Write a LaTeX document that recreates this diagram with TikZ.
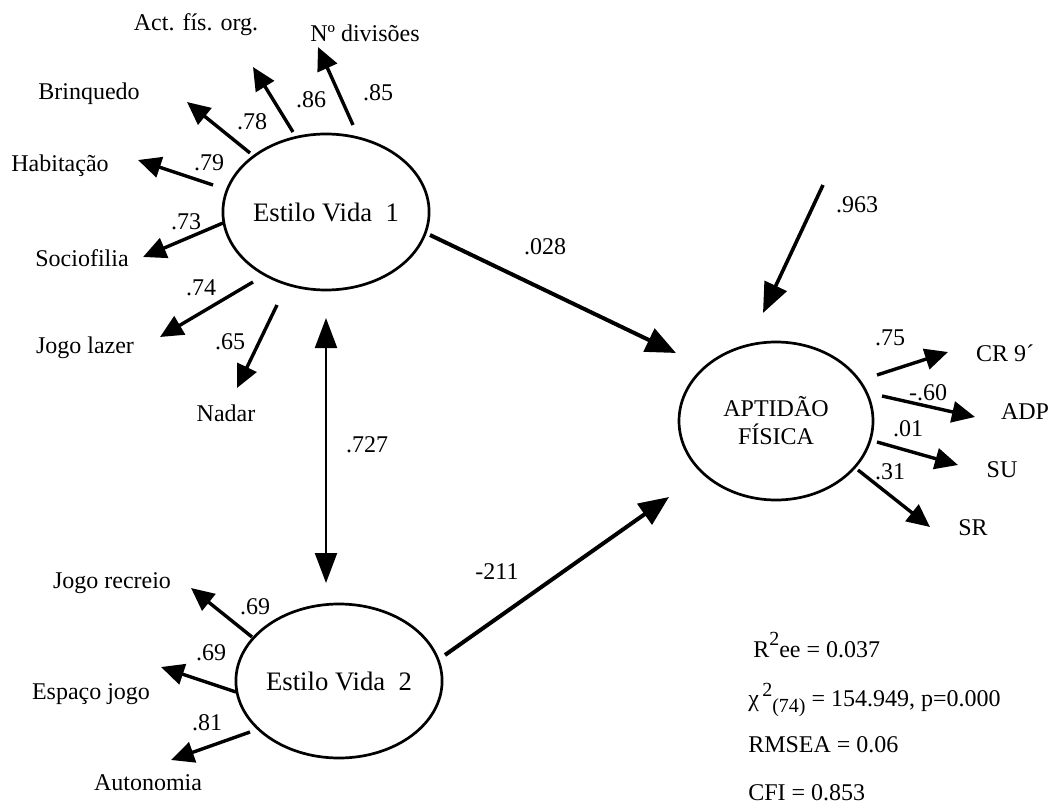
\documentclass[tikz,border=0pt]{standalone}
\usepackage{fontspec}
\setmainfont{Liberation Serif}
\usetikzlibrary{arrows.meta,shapes.geometric}
\def\px{0.75pt}
\tikzset{
  latent/.style={draw, line width=2.7*\px, ellipse, inner sep=0pt},
  lbl/.style={font=\fontsize{18}{20}\selectfont, inner sep=0pt},
  big/.style={font=\fontsize{20}{22}\selectfont},
  load/.style={line width=3.4*\px, -{Triangle[length=23*\px, width=21*\px]}},
  path/.style={line width=4*\px, -{Triangle[length=30*\px, width=25*\px]}},
  corr/.style={line width=2.2*\px, {Triangle[length=30*\px, width=22*\px]}-{Triangle[length=30*\px, width=22*\px]}},
}
\begin{document}
\begin{tikzpicture}[x=0.75pt, y=-0.75pt]
\path[use as bounding box] (0,0) rectangle (1052,805);

% latent variables
\node[latent, minimum width=196*\px, minimum height=156*\px, lbl, big] (ev1) at (326,212) {Estilo Vida\ \ 1};
\node[latent, minimum width=192*\px, minimum height=154*\px, lbl, big] (ev2) at (339,681) {Estilo Vida\ \ 2};
\node[latent, minimum width=194*\px, minimum height=158*\px, lbl, align=center] (apt) at (776,421) {APTIDÃO\\[1pt]FÍSICA};

% indicators of Estilo Vida 1
\node[lbl] (actfis) at (196,25) {Act. fís. org.};
\node[lbl] (ndiv) at (365,33) {Nº divisões};
\node[lbl] (brinq) at (89,94) {Brinquedo};
\node[lbl] (habit) at (60,166) {Habitação};
\node[lbl] (socio) at (82,258) {Sociofilia};
\node[lbl] (jlazer) at (85,348) {Jogo lazer};
\node[lbl] (nadar) at (226,413) {Nadar};

% indicators of Estilo Vida 2
\node[lbl] (jrecreio) at (112,583) {Jogo recreio};
\node[lbl] (espaco) at (91,694) {Espaço jogo};
\node[lbl] (auton) at (148,783) {Autonomia};

% indicators of Aptidão Física
\node[lbl] (cr) at (1005,353) {CR 9´};
\node[lbl] (adp) at (1025,412) {ADP};
\node[lbl] (su) at (1002,470) {SU};
\node[lbl] (sr) at (973,528) {SR};

% arrow end points
\coordinate (s-ndiv) at (353,125);  \coordinate (t-ndiv) at (318,47);
\coordinate (s-act) at (293,132);   \coordinate (t-act) at (253,67);
\coordinate (s-brq) at (250,153);   \coordinate (t-brq) at (187,102);
\coordinate (s-hab) at (213,185);   \coordinate (t-hab) at (138,160);
\coordinate (s-soc) at (223,223);   \coordinate (t-soc) at (143,257);
\coordinate (s-jl) at (253,282);    \coordinate (t-jl) at (160,337);
\coordinate (s-nad) at (277,305);   \coordinate (t-nad) at (237,388);

\coordinate (s-jr) at (252,637);    \coordinate (t-jr) at (191,588);
\coordinate (s-esp) at (236,692);   \coordinate (t-esp) at (161,667);
\coordinate (s-aut) at (250,732);   \coordinate (t-aut) at (171,760);

\coordinate (s-cr) at (877,375);    \coordinate (t-cr) at (948,352);
\coordinate (s-adp) at (882,396);   \coordinate (t-adp) at (975,417);
\coordinate (s-su) at (877,442);    \coordinate (t-su) at (958,465);
\coordinate (s-sr) at (858,470);    \coordinate (t-sr) at (930,527);

\coordinate (c-top) at (326,318);   \coordinate (c-bot) at (326,583);
\coordinate (p1-s) at (430,235);    \coordinate (p1-t) at (676,353);
\coordinate (p2-s) at (445,655);    \coordinate (p2-t) at (669,497);
\coordinate (res) at (823,185);     \coordinate (res-t) at (763,313);

% loadings
\foreach \a in {ndiv,act,brq,hab,soc,jl,nad,jr,esp,aut,cr,adp,su,sr}
  \draw[load] (s-\a) -- (t-\a);

% structural paths, residual and correlation
\draw[path] (p1-s) -- (p1-t);
\draw[path] (p2-s) -- (p2-t);
\draw[line width=3.6*\px, -{Triangle[length=30*\px, width=24*\px]}] (res) -- (res-t);
\draw[corr] (c-top) -- (c-bot);

% coefficients
\node[lbl] (v85) at (378,93) {.85};
\node[lbl] (v86) at (311,100) {.86};
\node[lbl] (v78) at (252,122) {.78};
\node[lbl] (v79) at (209,163) {.79};
\node[lbl] (v73) at (186,222) {.73};
\node[lbl] (v74) at (201,288) {.74};
\node[lbl] (v65) at (230,342) {.65};
\node[lbl] (v727) at (367,445) {.727};
\node[lbl] (v028) at (545,247) {.028};
\node[lbl] (v211) at (497,572) {-211};
\node[lbl] (v963) at (857,205) {.963};
\node[lbl] (v75) at (890,338) {.75};
\node[lbl] (v60) at (928,393) {-.60};
\node[lbl] (v01) at (908,429) {.01};
\node[lbl] (v31) at (890,472) {.31};
\node[lbl] (v69a) at (255,607) {.69};
\node[lbl] (v69b) at (211,653) {.69};
\node[lbl] (v81) at (207,723) {.81};

% fit statistics
\node[lbl, anchor=west] (r2) at (753,645) {R\raisebox{1.1ex}{\fontsize{15}{15}\selectfont 2}ee = 0.037};
\node[lbl, anchor=west] (chi) at (748,700) {χ\raisebox{0.9ex}{\fontsize{15}{15}\selectfont\,2}\raisebox{-0.6ex}{\fontsize{15}{15}\selectfont (74)}\ = 154.949, p=0.000};
\node[lbl, anchor=west] (rmsea) at (748,745) {RMSEA = 0.06};
\node[lbl, anchor=west] (cfi) at (748,793) {CFI = 0.853};
\end{tikzpicture}
\end{document}
